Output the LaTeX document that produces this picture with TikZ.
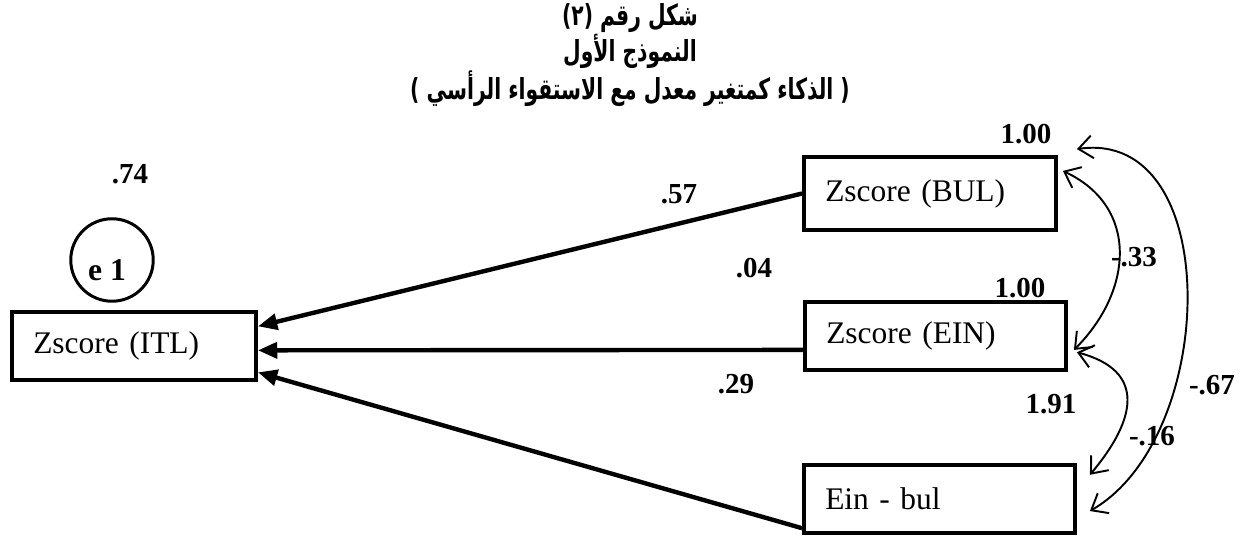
\documentclass[tikz,border=0pt]{standalone}
\usepackage{fontspec}
\setmainfont{Liberation Serif}
\newfontfamily\arabicfont[Script=Arabic,FakeStretch=0.7]{DejaVu Sans}
\TeXXeTstate=1
\usetikzlibrary{arrows.meta}

\begin{document}
\begin{tikzpicture}
[
	x=0.02cm,
	y=-0.02cm,
	varbox/.style={draw,rectangle,line width=2.5pt,inner xsep=0.42cm,inner ysep=0pt,align=left,minimum height=1.35cm,font=\fontsize{17.9}{20}\selectfont},
	errcirc/.style={circle,draw,line width=1.7pt,inner sep=0pt,minimum size=1.65cm},
	coef/.style={inner sep=0pt,font=\fontsize{16.5}{18}\selectfont\bfseries},
	pathline/.style={line width=2.5pt,-{Triangle[length=11pt,width=9pt]}},
	covline/.style={line width=1.1pt,{Straight Barb[length=8pt,width=13pt]}-{Straight Barb[length=8pt,width=13pt]}}
]

	\useasboundingbox (0,0) rectangle (1247,540);

	% title
	\node[align=center,font=\arabicfont\bfseries\fontsize{16.5}{17}\selectfont] (title) at (630,55)
		{\beginR شكل رقم (٢)\endR\\
		 \beginR النموذج الأول\endR\\
		 \beginR ( الذكاء كمتغير معدل مع الاستقواء الرأسي )\endR};

	% variables
	\node[varbox,text width=4.03cm] (itl) at (134,346) {Zscore (ITL)};
	\node[varbox,text width=4.19cm,minimum height=1.45cm] (bul) at (930,193.5) {Zscore (BUL)};
	\node[varbox,text width=4.37cm] (ein) at (935.5,336) {Zscore (EIN)};
	\node[varbox,text width=4.57cm] (einbul) at (939.5,499) {Ein - bul};
	\node[errcirc] (e1) at (112,260) {};
	\node[inner sep=0pt,font=\bfseries\fontsize{18}{18}\selectfont] (e1txt) at (107,270) {e 1};

	% paths
	\draw[pathline] (bul.west) -- (itl.9);
	\draw[pathline] (ein.186) -- (itl.-2);
	\draw[pathline] (einbul.192) -- (itl.-12);

	% covariances
	\draw[covline] ([xshift=0.1cm]bul.10) to[out=-25,in=45,looseness=1.2] ([xshift=0.12cm]ein.-6);
	\draw[covline] ([shift={(0.38cm,0.12cm)}]bul.north east) to[out=8,in=30,looseness=1.05] ([xshift=0.26cm]einbul.-5);
	\draw[covline] ([xshift=0.18cm]ein.-7) to[out=-15,in=50,looseness=1.5] ([xshift=0.26cm]einbul.10);

	% estimates
	\node[coef] (e1var) at (130,174) {.74};
	\node[coef] (bulvar) at (1026,134) {1.00};
	\node[coef] (einvar) at (1020,288) {1.00};
	\node[coef] (einbulvar) at (1051,404) {1.91};
	\node[coef] (wbul) at (679,194) {.57};
	\node[coef] (wein) at (754,268) {.04};
	\node[coef] (weinbul) at (736,384) {.29};
	\node[coef] (cbulein) at (1134,257) {-.33};
	\node[coef] (cbuleinbul) at (1212,385) {-.67};
	\node[coef] (cineinbul) at (1152,436) {-.16};

\end{tikzpicture}
\end{document}
